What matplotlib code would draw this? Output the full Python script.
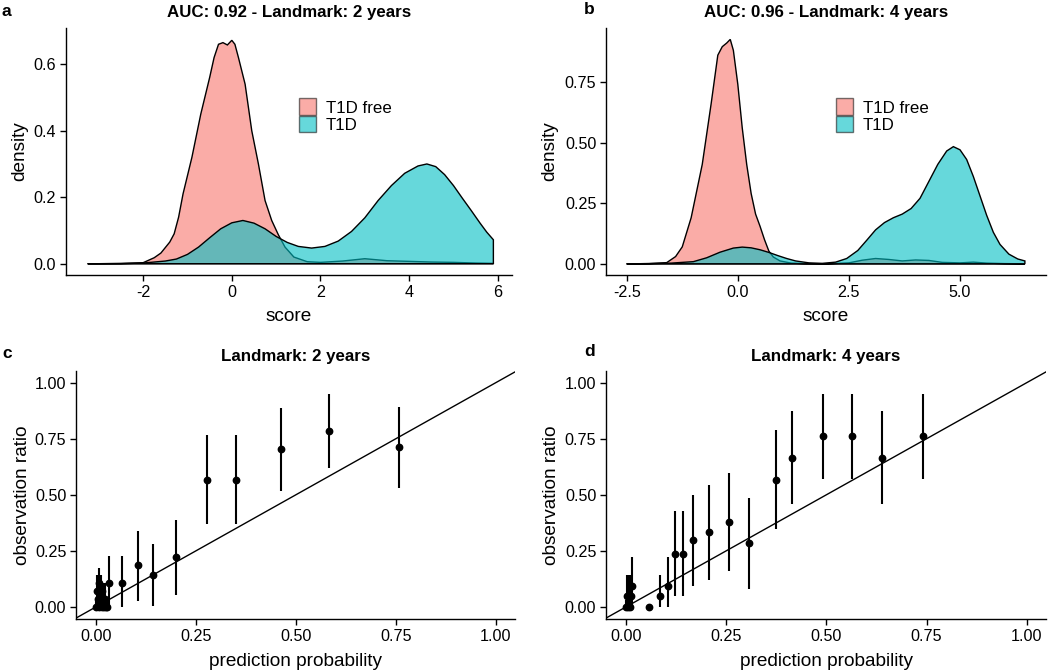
import matplotlib
matplotlib.use("Agg")
import matplotlib.pyplot as plt
from matplotlib.patches import Patch

plt.rcParams['font.family'] = ['Liberation Sans', 'DejaVu Sans']
plt.rcParams['axes.unicode_minus'] = False

# ---------------- data ----------------
groups = ["T1D free", "T1D"]
fill_colors = ["#F8766D", "#00BFC4"]

# Panel a: density of score, landmark 2 years
a_free_x = [-3.25, -3.0, -2.5, -2.0, -1.75, -1.6, -1.4, -1.3, -1.2, -1.1, -0.9, -0.7, -0.5, -0.4, -0.3,
            -0.2, -0.1, 0.0, 0.07, 0.15, 0.3, 0.45, 0.6, 0.75, 0.9, 1.05, 1.2, 1.4, 1.7, 2.0, 2.5,
            3.0, 3.5, 4.0, 4.5, 5.0, 5.5, 5.9]
a_free_y = [0.0, 0.0, 0.001, 0.003, 0.018, 0.032, 0.065, 0.09, 0.14, 0.21, 0.32, 0.45, 0.56, 0.62, 0.66,
            0.665, 0.658, 0.672, 0.66, 0.62, 0.54, 0.40, 0.30, 0.19, 0.13, 0.087, 0.05, 0.02, 0.006, 0.004, 0.008,
            0.015, 0.009, 0.007, 0.005, 0.004, 0.002, 0.001]
a_t1d_x = [-3.25, -2.5, -2.0, -1.5, -1.25, -1.0, -0.75, -0.5, -0.25, 0.0, 0.25, 0.5, 0.75, 1.0, 1.25,
           1.5, 1.8, 2.1, 2.4, 2.7, 3.0, 3.3, 3.6, 3.9, 4.2, 4.4, 4.6, 4.8, 5.0, 5.2, 5.4, 5.6, 5.75, 5.9]
a_t1d_y = [0.0, 0.0, 0.002, 0.008, 0.014, 0.028, 0.05, 0.078, 0.105, 0.123, 0.13, 0.122, 0.105, 0.082, 0.064,
           0.052, 0.047, 0.052, 0.068, 0.097, 0.138, 0.19, 0.235, 0.272, 0.294, 0.30, 0.292, 0.268, 0.235, 0.197,
           0.16, 0.122, 0.095, 0.072]

# Panel b: density of score, landmark 4 years
b_free_x = [-2.5, -2.0, -1.6, -1.4, -1.25, -1.05, -0.8, -0.6, -0.45, -0.35, -0.25, -0.17, -0.1, 0.0, 0.1,
            0.2, 0.3, 0.4, 0.5, 0.6, 0.7, 0.8, 0.95, 1.2, 1.5, 2.0, 2.5, 2.8, 3.1, 3.4, 3.7, 4.0, 4.3,
            4.6, 5.0, 5.3, 5.6, 6.0, 6.46]
b_free_y = [0.0, 0.001, 0.005, 0.03, 0.07, 0.19, 0.41, 0.66, 0.86, 0.895, 0.91, 0.925, 0.88, 0.74, 0.56,
            0.41, 0.29, 0.205, 0.155, 0.10, 0.052, 0.028, 0.012, 0.003, 0.001, 0.0, 0.004, 0.015, 0.022, 0.018,
            0.012, 0.016, 0.014, 0.006, 0.004, 0.007, 0.003, 0.001, 0.0]
b_t1d_x = [-2.5, -2.0, -1.5, -1.0, -0.7, -0.4, -0.1, 0.1, 0.3, 0.5, 0.7, 0.9, 1.1, 1.3, 1.6, 1.9, 2.2,
           2.45, 2.7, 2.9, 3.1, 3.3, 3.5, 3.7, 3.9, 4.1, 4.3, 4.5, 4.7, 4.85, 5.0, 5.15, 5.3, 5.45, 5.6,
           5.75, 5.9, 6.1, 6.3, 6.46]
b_t1d_y = [0.0, 0.001, 0.003, 0.009, 0.025, 0.048, 0.065, 0.069, 0.066, 0.058, 0.047, 0.034, 0.022, 0.012,
           0.004, 0.002, 0.007, 0.022, 0.055, 0.097, 0.14, 0.17, 0.19, 0.205, 0.228, 0.27, 0.34, 0.41, 0.465,
           0.483, 0.47, 0.43, 0.36, 0.28, 0.20, 0.13, 0.08, 0.04, 0.02, 0.012]

# Panel c: calibration, landmark 2 years
c_pred = [0.001, 0.003, 0.005, 0.007, 0.008, 0.010, 0.012, 0.014, 0.016, 0.018, 0.020, 0.022, 0.025, 0.028,
          0.033, 0.064, 0.106, 0.1425, 0.199, 0.278, 0.350, 0.463, 0.584, 0.759]
c_obs = [0.0, 0.071, 0.036, 0.0, 0.107, 0.036, 0.071, 0.0, 0.071, 0.036, 0.0, 0.036, 0.0, 0.0,
         0.107, 0.107, 0.185, 0.141, 0.222, 0.568, 0.568, 0.702, 0.784, 0.713]
c_lo = [0.0, 0.0, 0.0, 0.0, 0.02, 0.0, 0.0, 0.0, 0.0, 0.0, 0.0, 0.0, 0.0, 0.0,
        0.0, 0.0, 0.028, 0.003, 0.055, 0.37, 0.37, 0.519, 0.62, 0.531]
c_hi = [0.036, 0.14, 0.107, 0.05, 0.174, 0.107, 0.14, 0.06, 0.107, 0.107, 0.05, 0.107, 0.036, 0.036,
        0.229, 0.229, 0.338, 0.281, 0.387, 0.766, 0.766, 0.885, 0.948, 0.893]

# Panel d: calibration, landmark 4 years
d_pred = [0.001, 0.002, 0.004, 0.006, 0.008, 0.010, 0.012, 0.014, 0.058, 0.086, 0.105, 0.123, 0.141,
          0.167, 0.208, 0.258, 0.308, 0.374, 0.415, 0.491, 0.563, 0.638, 0.740]
d_obs = [0.0, 0.048, 0.0, 0.048, 0.048, 0.0, 0.048, 0.095, 0.0, 0.048, 0.095, 0.238, 0.238,
         0.298, 0.333, 0.379, 0.286, 0.568, 0.665, 0.762, 0.762, 0.665, 0.762]
d_lo = [0.0, 0.0, 0.0, 0.0, 0.0, 0.0, 0.0, 0.0, 0.0, 0.0, 0.0, 0.048, 0.048,
        0.095, 0.122, 0.162, 0.082, 0.348, 0.457, 0.571, 0.571, 0.457, 0.571]
d_hi = [0.03, 0.141, 0.06, 0.141, 0.141, 0.05, 0.141, 0.223, 0.0, 0.141, 0.223, 0.427, 0.427,
        0.50, 0.542, 0.595, 0.484, 0.787, 0.873, 0.948, 0.948, 0.873, 0.948]

titles = ["AUC: 0.92 - Landmark: 2 years", "AUC: 0.96 - Landmark: 4 years",
          "Landmark: 2 years", "Landmark: 4 years"]
panel_letters = ["a", "b", "c", "d"]

# ---------------- figure ----------------
W, H = 1050, 672
fig = plt.figure(figsize=(W / 100, H / 100), dpi=100)


def px_axes(x0, y0, x1, y1):
    return fig.add_axes([x0 / W, 1 - y1 / H, (x1 - x0) / W, (y1 - y0) / H])


ax_a = px_axes(66, 28, 512, 275)
ax_b = px_axes(606, 28, 1046, 275)
ax_c = px_axes(76, 371, 515, 619)
ax_d = px_axes(606, 371, 1046, 619)

TICK_FS = 11.6
LAB_FS = 13.7
TITLE_FS = 12.2


def style(ax):
    for s in ["top", "right"]:
        ax.spines[s].set_visible(False)
    for s in ["left", "bottom"]:
        ax.spines[s].set_linewidth(1.0)
        ax.spines[s].set_color("black")
    ax.tick_params(direction="out", length=4, width=1.0, colors="black",
                   labelsize=TICK_FS, pad=3)


def density_panel(ax, xs_list, ys_list, xlim, ylim, xticks, xticklabels, yticks, yticklabels):
    for xs, ys, col in zip(xs_list, ys_list, fill_colors):
        px = [xs[0]] + list(xs) + [xs[-1]]
        py = [0.0] + list(ys) + [0.0]
        ax.fill(px, py, facecolor=col, alpha=0.6, edgecolor="none")
        ax.fill(px, py, facecolor="none", edgecolor="black", linewidth=1.0)
    ax.set_xlim(*xlim)
    ax.set_ylim(*ylim)
    ax.set_xticks(xticks)
    ax.set_xticklabels(xticklabels)
    ax.set_yticks(yticks)
    ax.set_yticklabels(yticklabels)
    style(ax)
    ax.set_xlabel("score", fontsize=LAB_FS, va="center")
    ax.set_ylabel("density", fontsize=LAB_FS, va="center")
    handles = [Patch(facecolor=c, alpha=0.6, edgecolor="black", linewidth=1.0) for c in fill_colors]
    leg = ax.legend(handles, groups, loc="upper left", bbox_to_anchor=(0.522, 0.715),
                    frameon=False, fontsize=12.2, handlelength=1.0, handleheight=1.15,
                    labelspacing=0.0, handletextpad=0.6, borderpad=0, borderaxespad=0)
    for h in leg.legend_handles:
        h.set_edgecolor((0.1, 0.1, 0.1, 1.0))


density_panel(ax_a, [a_free_x, a_t1d_x], [a_free_y, a_t1d_y], (-3.74, 6.32), (-0.034, 0.709),
              [-2, 0, 2, 4, 6], ["-2", "0", "2", "4", "6"],
              [0.0, 0.2, 0.4, 0.6], ["0.0", "0.2", "0.4", "0.6"])
density_panel(ax_b, [b_free_x, b_t1d_x], [b_free_y, b_t1d_y], (-2.966, 6.935), (-0.046, 0.972),
              [-2.5, 0.0, 2.5, 5.0], ["-2.5", "0.0", "2.5", "5.0"],
              [0.0, 0.25, 0.5, 0.75], ["0.00", "0.25", "0.50", "0.75"])


def calib_panel(ax, xs, ys, lo, hi):
    ax.axline((0, 0), slope=1, color="black", linewidth=1.0, zorder=1)
    ax.vlines(xs, lo, hi, color="black", linewidth=1.5, zorder=2)
    ax.plot(xs, ys, "o", color="black", markersize=4.6, zorder=3)
    ax.set_xlim(-0.05, 1.048)
    ax.set_ylim(-0.054, 1.052)
    t = [0.0, 0.25, 0.5, 0.75, 1.0]
    tl = ["0.00", "0.25", "0.50", "0.75", "1.00"]
    ax.set_xticks(t)
    ax.set_xticklabels(tl)
    ax.set_yticks(t)
    ax.set_yticklabels(tl)
    style(ax)
    ax.set_xlabel("prediction probability", fontsize=LAB_FS, va="center")
    ax.set_ylabel("observation ratio", fontsize=LAB_FS, va="center")


calib_panel(ax_c, c_pred, c_obs, c_lo, c_hi)
calib_panel(ax_d, d_pred, d_obs, d_lo, d_hi)

# label positions (axes coords)
ax_a.xaxis.set_label_coords(0.5, -0.170)
ax_a.yaxis.set_label_coords(-0.103, 0.5)
ax_b.xaxis.set_label_coords(0.5, -0.170)
ax_b.yaxis.set_label_coords(-0.127, 0.5)
ax_c.xaxis.set_label_coords(0.5, -0.171)
ax_c.yaxis.set_label_coords(-0.121, 0.5)
ax_d.xaxis.set_label_coords(0.5, -0.171)
ax_d.yaxis.set_label_coords(-0.123, 0.5)

# titles
for ax, t, ypx in zip([ax_a, ax_b, ax_c, ax_d], titles, [13, 13, 356, 356]):
    bb = ax.get_position()
    fig.text(bb.x0 + bb.width / 2, 1 - ypx / H, t, ha="center", va="center",
             fontsize=TITLE_FS, fontweight="bold")

# panel letters
for letter, (xp, yp) in zip(panel_letters, [(2, 11), (584, 10), (2, 353), (584, 352)]):
    fig.text(xp / W, 1 - yp / H, letter, ha="left", va="center", fontsize=12.5, fontweight="bold")

fig.savefig("out.png", dpi=100)
